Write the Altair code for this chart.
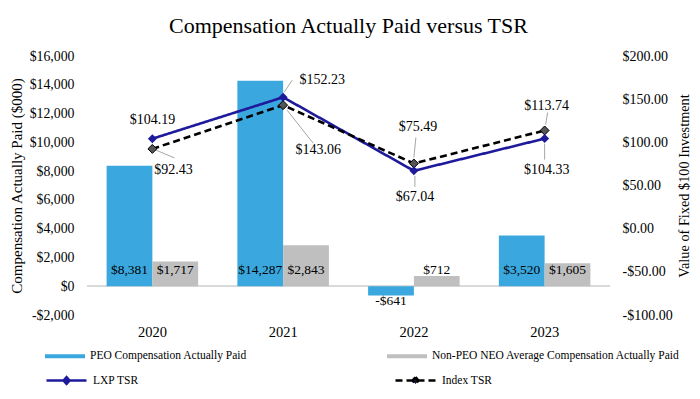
import altair as alt
import pandas as pd

# ---- data ----
years = ["2020", "2021", "2022", "2023"]
peo_cap = [8381, 14287, -641, 3520]
neo_cap = [1717, 2843, 712, 1605]
lxp_tsr = [104.19, 152.23, 67.04, 104.33]
index_tsr = [92.43, 143.06, 75.49, 113.74]

bar_series = ["PEO Compensation Actually Paid", "Non-PEO NEO Average Compensation Actually Paid"]
tsr_series = ["LXP TSR", "Index TSR"]

# label placement for TSR annotations (series, year, dx, dy)
tsr_label_layout = [
    ("LXP TSR", "2020", 0, -19),
    ("Index TSR", "2020", 21, 21),
    ("LXP TSR", "2021", 39, -17),
    ("Index TSR", "2021", 35, 45),
    ("LXP TSR", "2022", 1, 26),
    ("Index TSR", "2022", 4, -36),
    ("LXP TSR", "2023", 2, 31),
    ("Index TSR", "2023", 2, -24),
]
# leader lines (series, year, x1, y1, x2, y2) pixel offsets from the point
leader_layout = [
    ("Index TSR", "2020", 3, 1, 22, 9),
    ("LXP TSR", "2021", 1, -5, 9, -17),
    ("Index TSR", "2021", 4, 5, 30, 38),
    ("Index TSR", "2022", 2, -26, 0, -6),
    ("LXP TSR", "2022", 1, 5, 1, 16),
    ("Index TSR", "2023", 3, -18, 1, -6),
    ("LXP TSR", "2023", 0, 5, 0, 21),
]

FONT = "Liberation Serif"
BLUE = "#3AA8DE"
GRAY = "#BFBFBF"
NAVY = "#1E1A9C"

bars_df = pd.DataFrame({
    "year": years * 2,
    "series": [bar_series[0]] * 4 + [bar_series[1]] * 4,
    "value": peo_cap + neo_cap,
})
tsr_df = pd.DataFrame({
    "year": years * 2,
    "tsr_series": [tsr_series[0]] * 4 + [tsr_series[1]] * 4,
    "tsr": lxp_tsr + index_tsr,
})

x_enc = alt.X("year:N", sort=years,
              scale=alt.Scale(paddingInner=0.3, paddingOuter=0.15),
              axis=alt.Axis(title=None, labelAngle=0, labelFontSize=14.5, labelPadding=10,
                            labelFont=FONT, labelColor="black"))

left_axis = alt.Axis(
    title="Compensation Actually Paid ($000)", titleFont=FONT, titleFontSize=15,
    titleFontWeight="normal", titleColor="black", titlePadding=5,
    values=list(range(-2000, 16001, 2000)),
    labelExpr="datum.value < 0 ? '-$' + format(-datum.value, ',.0f') : '$' + format(datum.value, ',.0f')",
    labelFont=FONT, labelFontSize=13.8, labelColor="black", labelPadding=13,
)
y_left_scale = alt.Scale(domain=[-2000, 16000], nice=False, zero=False)

base_bars = alt.Chart(bars_df)

zero_rule = base_bars.mark_rule(color="#D9D9D9", strokeWidth=1.5).encode(
    y=alt.Y(datum=0, scale=y_left_scale, axis=left_axis)
)

bars = base_bars.mark_bar().encode(
    x=x_enc,
    xOffset=alt.XOffset("series:N", sort=bar_series, scale=alt.Scale(paddingInner=0, paddingOuter=0)),
    y=alt.Y("value:Q", scale=y_left_scale, axis=left_axis),
    fill=alt.Fill("series:N", sort=bar_series,
                  scale=alt.Scale(domain=bar_series, range=[BLUE, GRAY]),
                  legend=alt.Legend(orient="none", legendX=-42, legendY=280, columns=2,
                                    columnPadding=140, title=None, labelLimit=400,
                                    symbolType="M-1,-0.1H1V0.1H-1Z", symbolSize=1600,
                                    symbolStrokeWidth=0, labelFont=FONT, labelFontSize=11.5,
                                    labelColor="black", labelOffset=5)),
)

label_calc = "datum.value < 0 ? '-$' + format(-datum.value, ',') : '$' + format(datum.value, ',')"

bar_text_pos = base_bars.transform_filter("datum.value >= 0").transform_calculate(
    label=label_calc, zero="0"
).mark_text(font=FONT, fontSize=13.5, color="black", baseline="alphabetic", dy=-12).encode(
    x=x_enc,
    xOffset=alt.XOffset("series:N", sort=bar_series),
    y=alt.Y("zero:Q", scale=y_left_scale, axis=left_axis),
    text="label:N",
)
bar_text_neg = base_bars.transform_filter("datum.value < 0").transform_calculate(
    label=label_calc
).mark_text(font=FONT, fontSize=13.5, color="black", baseline="alphabetic", dy=10).encode(
    x=x_enc,
    xOffset=alt.XOffset("series:N", sort=bar_series),
    y=alt.Y("value:Q", scale=y_left_scale, axis=left_axis),
    text="label:N",
)

left = alt.layer(zero_rule, bars, bar_text_pos, bar_text_neg)

# ---- right axis: TSR ----
right_axis = alt.Axis(
    orient="right", title="Value of Fixed $100 Investment", titleFont=FONT, titleFontSize=14.3,
    titleFontWeight="normal", titleColor="black", titlePadding=19, titleAngle=270,
    values=[-100, -50, 0, 50, 100, 150, 200],
    labelExpr="datum.value < 0 ? '-$' + format(-datum.value, ',.2f') : '$' + format(datum.value, ',.2f')",
    labelFont=FONT, labelFontSize=14, labelColor="black", labelPadding=12,
)
y_right_scale = alt.Scale(domain=[-100, 200], nice=False, zero=False)

base_tsr = alt.Chart(tsr_df)
y_tsr = alt.Y("tsr:Q", scale=y_right_scale, axis=right_axis)

line_legend = alt.Legend(orient="none", legendX=-42, legendY=303, columns=2,
                         columnPadding=251, title=None, labelLimit=400,
                         symbolType="M-1,0H1M0,-0.17L0.15,0L0,0.17L-0.15,0Z",
                         symbolSize=1600, symbolStrokeWidth=2.5, symbolFillColor="#14123d",
                         labelFont=FONT, labelFontSize=11.5, labelColor="black",
                         labelOffset=5)

lines = base_tsr.mark_line(strokeWidth=2.6).encode(
    x=x_enc,
    y=y_tsr,
    stroke=alt.Stroke("tsr_series:N", sort=tsr_series,
                      scale=alt.Scale(domain=tsr_series, range=[NAVY, "black"]),
                      legend=line_legend),
    strokeDash=alt.StrokeDash("tsr_series:N", sort=tsr_series,
                              scale=alt.Scale(domain=tsr_series, range=[[1, 0], [7, 4]]),
                              legend=line_legend),
    detail="tsr_series:N",
)

pts_lxp = base_tsr.transform_filter(f"datum.tsr_series == '{tsr_series[0]}'").mark_point(
    shape="diamond", filled=True, size=80, color=NAVY, opacity=1
).encode(x=x_enc, y=y_tsr)
pts_idx = base_tsr.transform_filter(f"datum.tsr_series == '{tsr_series[1]}'").mark_point(
    shape="diamond", filled=True, size=80, fill="#555555", stroke="black", strokeWidth=1, opacity=1
).encode(x=x_enc, y=y_tsr)

leaders = []
for s, yr, x1, y1, x2, y2 in leader_layout:
    leaders.append(
        base_tsr.transform_filter(f"datum.tsr_series == '{s}' && datum.year == '{yr}'").mark_rule(
            color="#A6A6A6", strokeWidth=1, xOffset=x1, yOffset=y1, x2Offset=x2, y2Offset=y2
        ).encode(x=x_enc, x2=alt.X2("year:N"), y=y_tsr, y2=alt.Y2("tsr:Q"))
    )

tsr_labels = []
for s, yr, dx, dy in tsr_label_layout:
    tsr_labels.append(
        base_tsr.transform_filter(f"datum.tsr_series == '{s}' && datum.year == '{yr}'").transform_calculate(
            label="'$' + format(datum.tsr, ',.2f')"
        ).mark_text(font=FONT, fontSize=14, color="black", baseline="middle", align="center", dx=dx, dy=dy).encode(
            x=x_enc, y=y_tsr, text="label:N"
        )
    )

right = alt.layer(*leaders, lines, pts_idx, pts_lxp, *tsr_labels)

chart = alt.layer(left, right).resolve_scale(y="independent").properties(
    width=523, height=259,
    title=alt.TitleParams("Compensation Actually Paid versus TSR", font=FONT, fontSize=22,
                          fontWeight="normal", color="black", anchor="middle", offset=11),
    autosize=alt.AutoSizeParams(type="none"),
    padding={"left": 79, "top": 48, "right": 82, "bottom": 76},
    background="white",
).configure_view(stroke=None).configure_axis(
    domain=False, ticks=False, grid=False
)

chart.save("out.html", embed_options={"renderer": "svg", "actions": False})
